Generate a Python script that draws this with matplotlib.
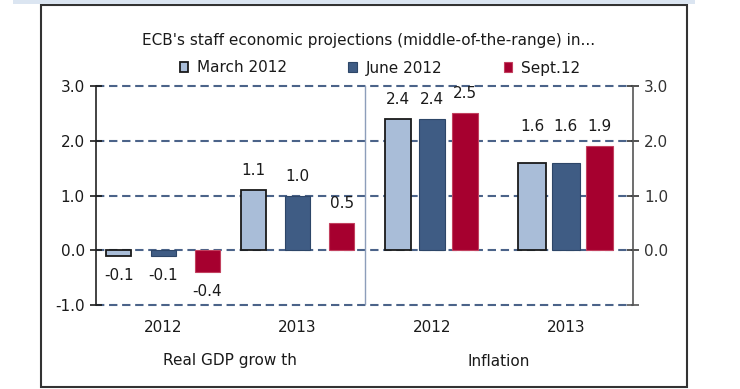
import matplotlib.pyplot as plt
from matplotlib.patches import Rectangle, Patch

# ECB staff projections, middle of the range
years = ['2012', '2013', '2012', '2013']
panels = ['Real GDP grow th', 'Inflation']
series = ['March 2012', 'June 2012', 'Sept.12']
march = [-0.1, 1.1, 2.4, 1.6]
june = [-0.1, 1.0, 2.4, 1.6]
sept = [-0.4, 0.5, 2.5, 1.9]

colors = ['#a9bdd8', '#3f5c84', '#a6002f']
edges = ['#1a1a1a', '#2d4668', '#c2415f']
edge_w = [1.3, 0.8, 0.8]

plt.rcParams['font.family'] = 'DejaVu Sans'
plt.rcParams['lines.scale_dashes'] = False
fs = 11
txt = '#1a1a1a'

fig = plt.figure(figsize=(7.4, 3.89), dpi=100)
ax = fig.add_axes([96/740, 1-305/389, 537/740, 219/389])

# bar spacing / width differ between the two panels in the original
spacing = [0.33, 0.33, 0.248, 0.252]
widths = [0.186, 0.186, 0.195, 0.205]

vals = [march, june, sept]
for g in range(4):
    center = g + 0.5
    top = max(v[g] for v in vals)
    for s in range(3):
        x = center + (s - 1) * spacing[g]
        v = vals[s][g]
        ax.bar(x, v, width=widths[g], color=colors[s], edgecolor=edges[s],
               linewidth=edge_w[s], zorder=3)
        ly = top if g == 3 else v          # last group labels are lined up
        off = 14 if v >= 0 else -14
        ax.annotate('%.1f' % v, (x, ly), xytext=(0, off), textcoords='offset points',
                    ha='center', va='center', fontsize=fs, color=txt)

for y in [-1, 0, 1, 2, 3]:
    ax.axhline(y, color='#4b6389', lw=1.5, dashes=(6.0, 3.4), zorder=1, clip_on=False)
ax.axvline(2, color='#8d9eba', lw=1.0, zorder=2)

ax.set_xlim(0, 4)
ax.set_ylim(-1, 3)
ax.set_yticks([-1, 0, 1, 2, 3])
ax.set_yticklabels(['%.1f' % t for t in [-1, 0, 1, 2, 3]])
ax.set_xticks([])
ax.tick_params(axis='y', direction='inout', length=8, width=1.2, pad=4,
               labelsize=fs, colors=txt)
for s in ['top', 'bottom', 'right']:
    ax.spines[s].set_visible(False)
ax.spines['left'].set_color('#222222')
ax.spines['left'].set_linewidth(1.2)

ax2 = ax.twinx()
ax2.set_ylim(-1, 3)
ax2.set_yticks([0, 1, 2, 3])
ax2.set_yticklabels(['%.1f' % t for t in [0, 1, 2, 3]])
ax2.tick_params(axis='y', direction='inout', length=8, width=1.2, pad=4,
                labelsize=fs, colors='#333333')
for s in ['top', 'bottom', 'left']:
    ax2.spines[s].set_visible(False)
ax2.spines['right'].set_color('#555555')
ax2.spines['right'].set_linewidth(1.2)
# tick at -1 on the right side without label
ax2.set_yticks([-1], minor=True)
ax2.tick_params(axis='y', which='minor', direction='inout', length=8, width=1.2,
                colors='#555555')

tr = ax.get_xaxis_transform()
for g in range(4):
    ax.text(g + 0.5, -23/219, years[g], transform=tr, ha='center', va='center',
            fontsize=fs, color=txt)
ax.text(1.0, -56/219, panels[0], transform=tr, ha='center', va='center',
        fontsize=fs, color=txt)
ax.text(3.0, -56/219, panels[1], transform=tr, ha='center', va='center',
        fontsize=fs, color=txt)

fig.text(369/740, 1-40/389, "ECB's staff economic projections (middle-of-the-range) in...",
         ha='center', va='center', fontsize=fs, color=txt)

handles = [Patch(facecolor=colors[i], edgecolor=edges[i], linewidth=edge_w[i])
           for i in range(3)]
fig.legend(handles, series, loc='center', bbox_to_anchor=(380/740, 1-68/389),
           ncol=3, frameon=False, fontsize=fs, handlelength=0.55, handleheight=0.55,
           handletextpad=0.6, columnspacing=4.0, borderpad=0,
           labelcolor=txt)

# outer frame and top strip
fig.patches.append(Rectangle((41/740, 2/389), 646/740, 382.5/389,
                             transform=fig.transFigure, fill=False,
                             edgecolor='#333333', linewidth=1.5))
fig.patches.append(Rectangle((13/740, 1-3.5/389), 682/740, 3.5/389,
                             transform=fig.transFigure, color='#dbe5f1', lw=0))

fig.savefig('out.png', dpi=100)
